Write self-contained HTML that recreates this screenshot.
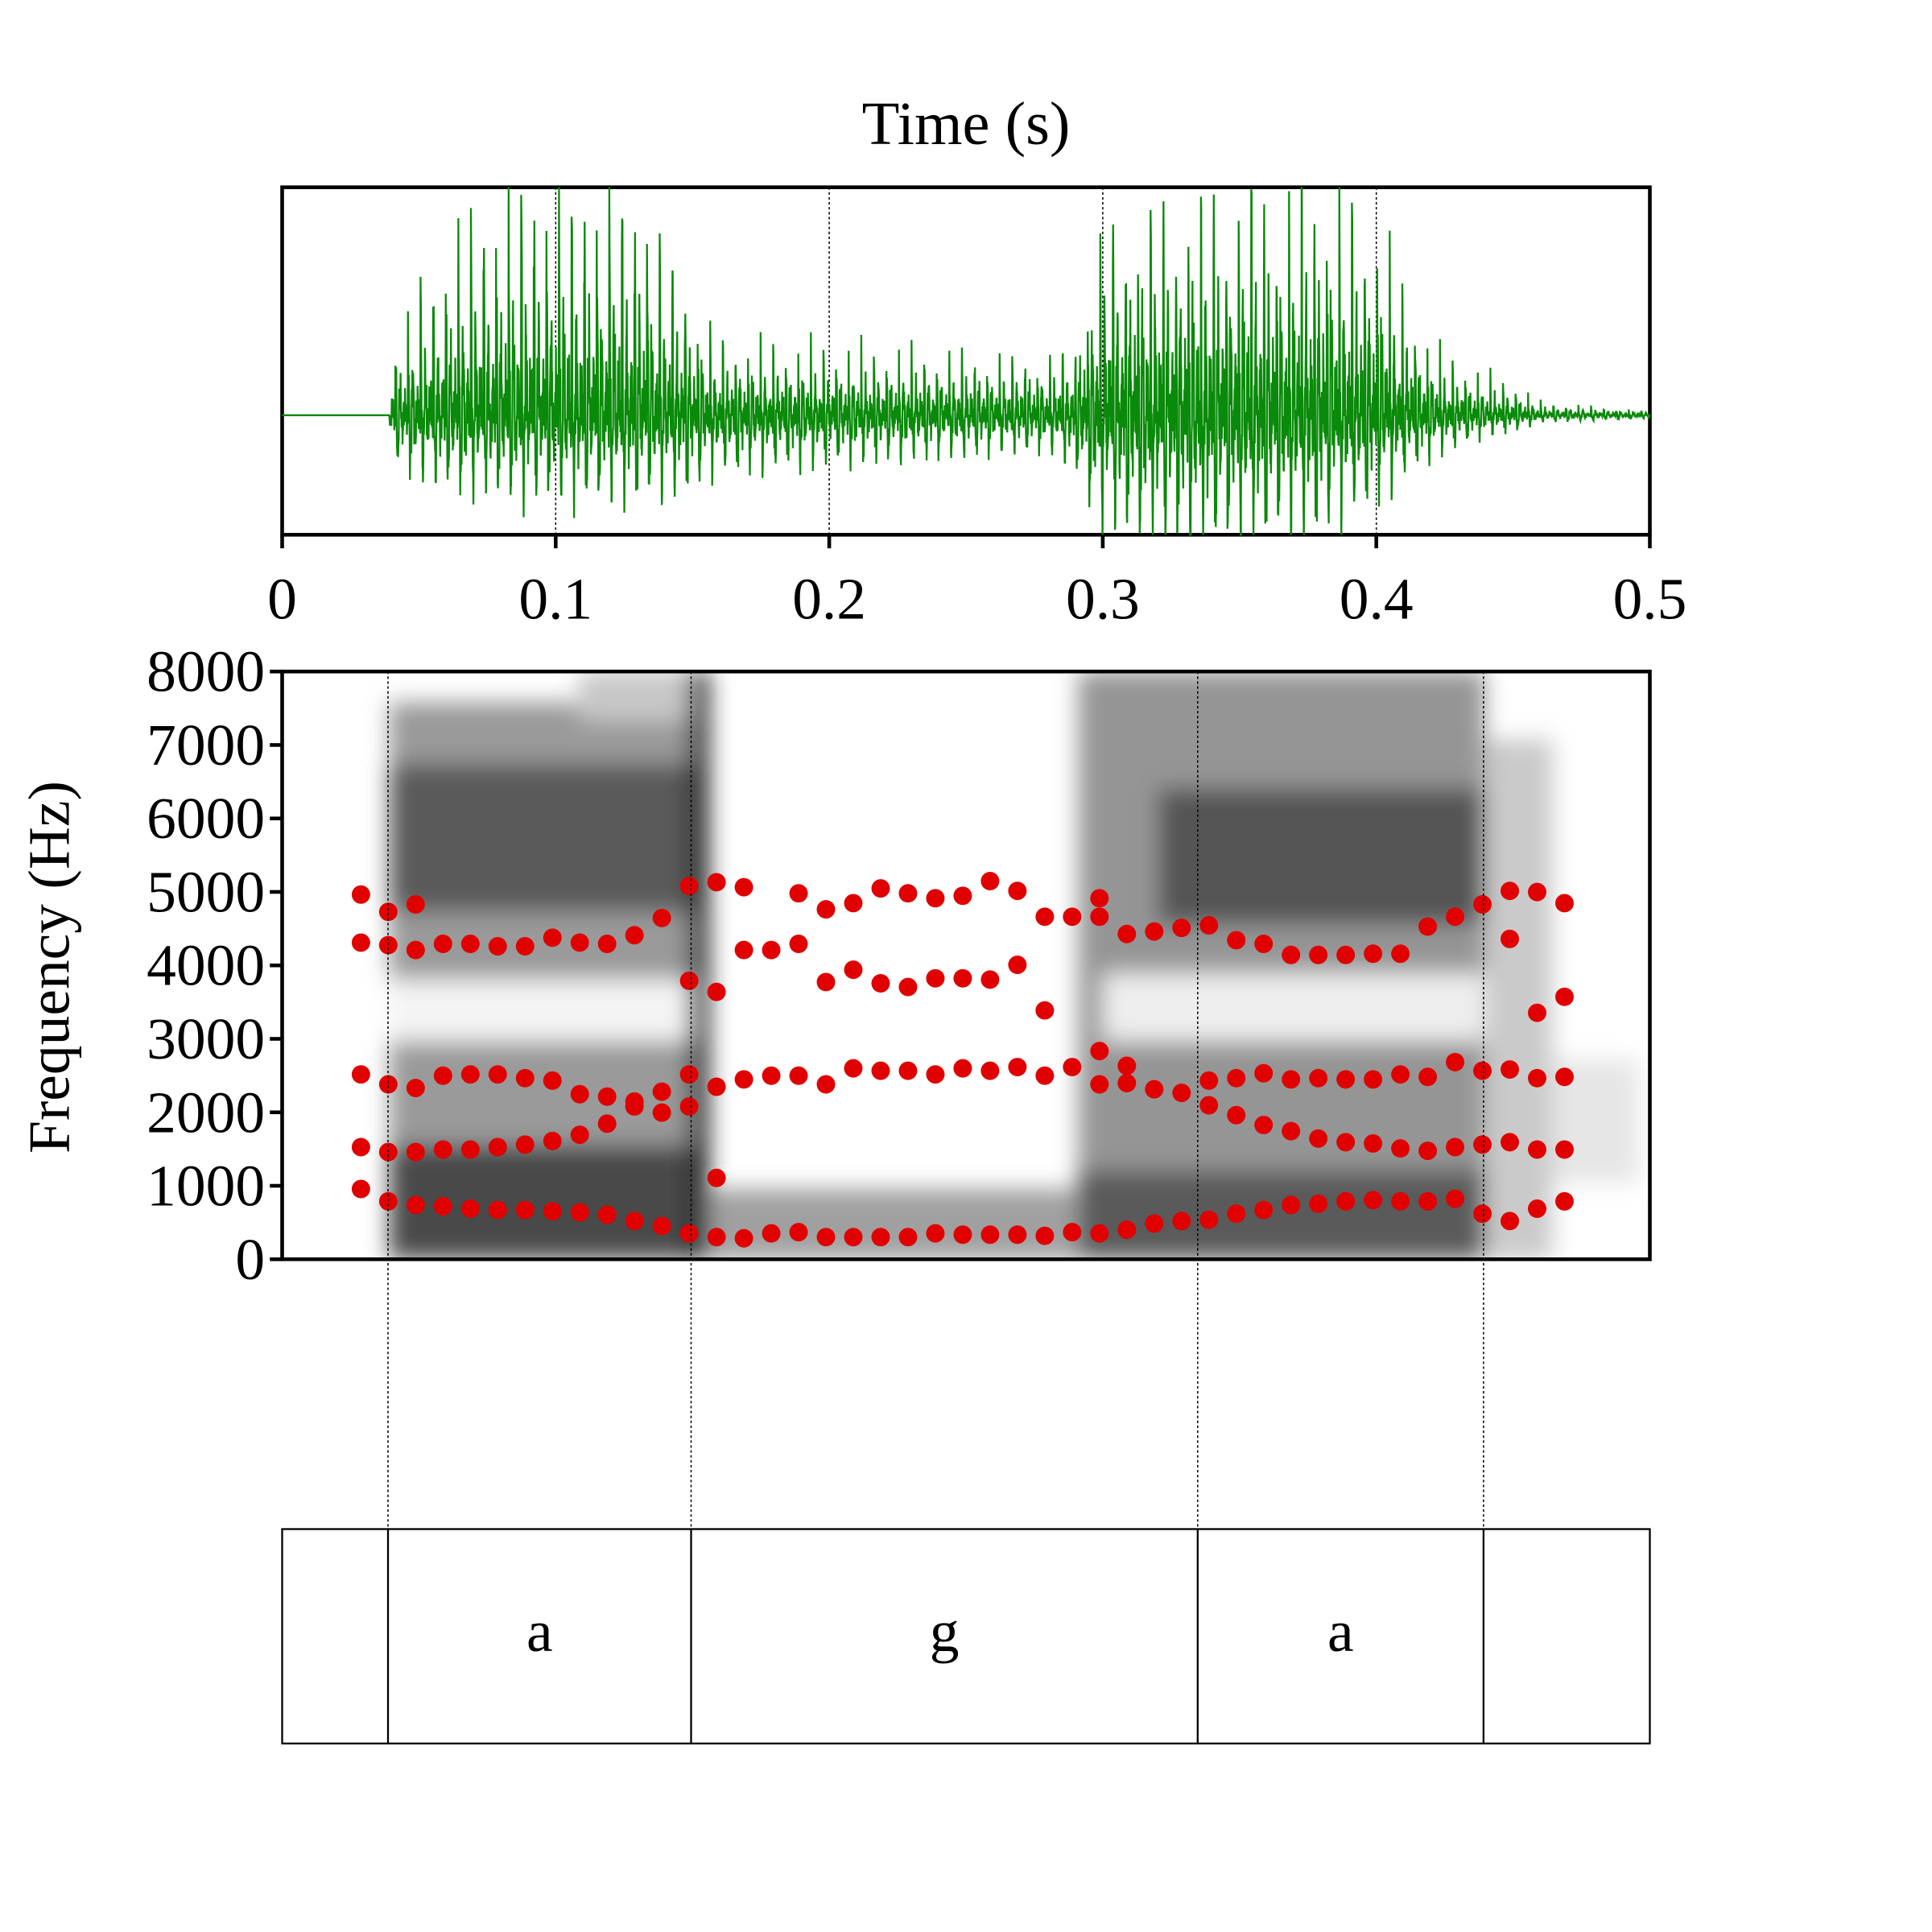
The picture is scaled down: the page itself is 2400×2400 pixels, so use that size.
<!DOCTYPE html>
<html><head><meta charset="utf-8"><style>
html,body{margin:0;padding:0;background:#fff;}
svg{display:block;}
text{font-family:"Liberation Serif",serif;fill:#000;}
</style></head><body>
<svg id="chart" width="2400" height="2400" viewBox="0 0 1568 1568" xmlns="http://www.w3.org/2000/svg">
<defs>
<filter id="blur" x="-20%" y="-20%" width="140%" height="140%"><feGaussianBlur stdDeviation="9"/></filter>
<clipPath id="specclip"><rect x="229" y="545" width="1110" height="477"/></clipPath>
</defs>
<text x="784" y="117" font-size="50" text-anchor="middle">Time (s)</text>
<g id="wave"></g>
<g id="spec" clip-path="url(#specclip)">
 <g filter="url(#blur)">
  <rect x="316" y="570" width="245" height="452" fill="#9a9a9a"/>
  <rect x="316" y="620" width="245" height="120" fill="#5a5a5a"/>
  <rect x="316" y="930" width="245" height="92" fill="#4a4a4a"/>
  <rect x="316" y="795" width="245" height="50" fill="#f4f4f4"/>
  <rect x="470" y="545" width="90" height="40" fill="#c8c8c8"/>
  <rect x="559" y="545" width="16" height="477" fill="#222"/>
  <rect x="575" y="965" width="300" height="57" fill="#a0a0a0"/>
  <rect x="875" y="545" width="330" height="477" fill="#959595"/>
  <rect x="940" y="640" width="265" height="110" fill="#555"/>
  <rect x="875" y="950" width="330" height="72" fill="#5a5a5a"/>
  <rect x="895" y="790" width="310" height="55" fill="#eee"/>
  <rect x="1205" y="600" width="55" height="422" fill="#cacaca"/>
  <rect x="1260" y="860" width="70" height="100" fill="#e6e6e6"/>
 </g>
</g>
<rect x="229" y="545" width="1110" height="477" fill="none" stroke="#000" stroke-width="3"/>
<g id="specaxis"></g>
<text transform="translate(56,785) rotate(-90)" font-size="48" text-anchor="middle">Frequency (Hz)</text>
<g id="dots"></g>
<g id="bounds"></g>
<g id="tier"></g>
</svg>
<script>
const NS="http://www.w3.org/2000/svg";
const X0=229,X1=1339,TMAX=0.5;
const SY0=1022,SY1=545,FMAX=8000;
function xs(t){return X0+(t/TMAX)*(X1-X0);}
function ys(f){return SY0-(f/FMAX)*(SY0-SY1);}
function mk(tag,attrs,parent){const e=document.createElementNS(NS,tag);for(const k in attrs)e.setAttribute(k,attrs[k]);parent.appendChild(e);return e;}

const timeTicks=[0,0.1,0.2,0.3,0.4,0.5];
const timeTickLabels=["0","0.1","0.2","0.3","0.4","0.5"];
const freqTicks=[0,1000,2000,3000,4000,5000,6000,7000,8000];
const freqTickLabels=["0","1000","2000","3000","4000","5000","6000","7000","8000"];
const boundaryTimes=[0.0387,0.1495,0.3347,0.4392];
const segmentLabels=["","a","g","a",""];
const envTimes=[0,0.039,0.04,0.05,0.07,0.09,0.13,0.145,0.16,0.2,0.28,0.29,0.30,0.33,0.38,0.40,0.42,0.44,0.45,0.46,0.5];
const envUp=[0,0,40,80,130,150,150,100,55,50,45,60,150,170,175,140,50,30,25,10,3];
const envDown=[0,0,30,45,55,60,60,55,40,35,25,40,80,95,80,60,30,15,12,5,2];
const frameTimes=[];for(let i=0;i<45;i++)frameTimes.push(+(0.0288+i*0.01).toFixed(4));
const F1=[956,788,738,721,688,671,671,654,638,604,520,453,352,302,285,352,369,302,302,302,302,352,335,335,335,319,369,352,402,486,520,537,620,671,738,755,788,805,788,788,822,620,520,688,788];
const F2=[1526,1459,1459,1493,1493,1526,1560,1610,1694,1845,2079,1996,2079,1107,null,null,null,null,null,null,null,null,null,null,null,null,null,null,null,null,null,2096,1962,1828,1744,1643,1593,1576,1509,1476,1526,1560,1593,1493,1493];
const F3=[2516,2381,2331,2499,2516,2516,2465,2432,2247,2214,2147,2281,2516,2348,2448,2499,2499,2381,2599,2566,2566,2516,2599,2566,2616,2499,2616,2381,2398,2314,2264,2432,2465,2532,2448,2465,2448,2448,2516,2482,2683,2566,2583,2465,2482];
const F4=[4310,4276,4209,4293,4293,4260,4260,4377,4310,4293,4411,4645,3790,3639,4209,4209,4293,3773,3941,3756,3706,3824,3824,3807,4008,3387,4662,2834,2633,4461,4511,4545,4343,4293,4142,4142,4142,4159,4159,4528,4662,4830,4360,3354,3572];
const F5=[4964,4729,4830,null,null,null,null,null,null,null,null,null,5081,5132,5064,null,4981,4763,4847,5048,4981,4914,4947,5148,5014,4662,null,4662,4427,null,null,null,null,null,null,null,null,null,null,null,null,null,5014,4998,4847];
const F6=[null,null,null,null,null,null,null,null,null,null,null,null,null,null,null,null,null,null,null,null,null,null,null,null,null,null,null,4914,null,null,null,null,null,null,null,null,null,null,null,null,null,null,null,null,null];

// waveform
const W=document.getElementById('wave');
const WY0=152,WY1=434,WB=337;
function interp(ts,vs,t){for(let i=1;i<ts.length;i++){if(t<=ts[i]){const a=(t-ts[i-1])/(ts[i]-ts[i-1]);return vs[i-1]+a*(vs[i]-vs[i-1]);}}return vs[vs.length-1];}
let pts=[];
for(let t=0;t<=0.5;t+=0.0001){
  const up=interp(envTimes,envUp,t),dn=interp(envTimes,envDown,t);
  const P=0.0046;const ph=(t%P)/P;
  let v=Math.exp(-ph*2.5)*Math.cos(ph*Math.PI*2*2.6)+0.3*Math.sin(t*2*Math.PI*1900)*Math.exp(-ph*1.2)+0.15*Math.sin(t*2*Math.PI*3700);
  const y=v>=0?WB-v*up:WB-v*dn*1.4;
  pts.push(xs(t).toFixed(1)+","+Math.max(WY0,Math.min(WY1,y)).toFixed(1));
}
mk('rect',{x:X0,y:WY0,width:X1-X0,height:WY1-WY0,fill:'none',stroke:'#000','stroke-width':3},W);
for(let i=1;i<5;i++){const l=mk('line',{x1:xs(timeTicks[i]),x2:xs(timeTicks[i]),y1:WY0,y2:WY1,stroke:'#000','stroke-width':1,'stroke-dasharray':'2,2'},W);

}
const pl=mk('polyline',{points:pts.join(' '),fill:'none',stroke:'#0a8a0a','stroke-width':1.5},W);


timeTicks.forEach((t,i)=>{
  const tk=mk('line',{x1:xs(t),x2:xs(t),y1:WY1,y2:WY1+11,stroke:'#000','stroke-width':3},W);
  
  
  const tx=mk('text',{x:xs(t),y:502,'font-size':48,'text-anchor':'middle'},W);tx.textContent=timeTickLabels[i];
  
  
});
// freq axis
const A=document.getElementById('specaxis');
freqTicks.forEach((f,i)=>{
  const tk=mk('line',{x1:X0-10,x2:X0,y1:ys(f),y2:ys(f),stroke:'#000','stroke-width':3},A);
  
  
  const tx=mk('text',{x:X0-14,y:ys(f)+16,'font-size':48,'text-anchor':'end'},A);tx.textContent=freqTickLabels[i];
  
  
});
// dots
const D=document.getElementById('dots');
[F1,F2,F3,F4,F5,F6].forEach((arr,k)=>{
  arr.forEach((f,i)=>{if(f==null)return;
    const c=mk('circle',{cx:xs(frameTimes[i]),cy:ys(f),r:7.5,fill:'#e00000'},D);
    
    
  });
});
// boundaries
const B=document.getElementById('bounds');
const TY0=1241,TY1=1415;
boundaryTimes.forEach(t=>{
  const l=mk('line',{x1:xs(t),x2:xs(t),y1:SY1,y2:TY0,stroke:'#000','stroke-width':1,'stroke-dasharray':'2,2'},B);
  
  
});
// tier
const T=document.getElementById('tier');
const r=mk('rect',{x:X0,y:TY0,width:X1-X0,height:TY1-TY0,fill:'none',stroke:'#000','stroke-width':1.5},T);


const edges=[0,...boundaryTimes,TMAX];
boundaryTimes.forEach(t=>{const l=mk('line',{x1:xs(t),x2:xs(t),y1:TY0,y2:TY1,stroke:'#000','stroke-width':1.5},T);

});
segmentLabels.forEach((s,i)=>{if(!s)return;
  const tx=mk('text',{x:(xs(edges[i])+xs(edges[i+1]))/2,y:1340,'font-size':48,'text-anchor':'middle'},T);tx.textContent=s;
  
  
});
</script>
</body></html>
